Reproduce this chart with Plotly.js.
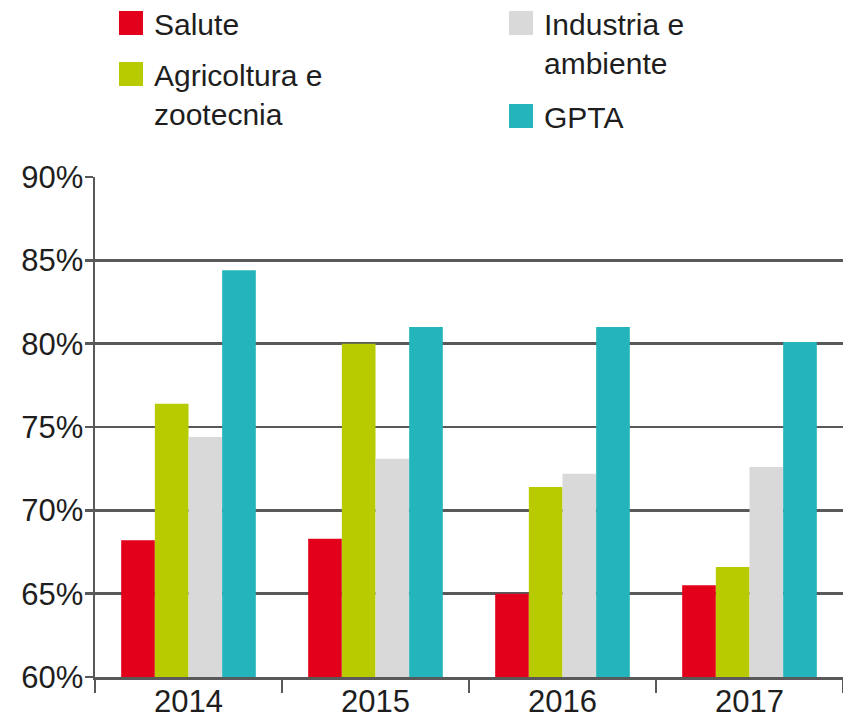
<!DOCTYPE html>
<html>
<head>
<meta charset="utf-8">
<script src="https://cdn.plot.ly/plotly-3.0.1.min.js"></script>
<style>html,body{margin:0;padding:0;background:#fff;}#chart{width:843px;height:720px;}</style>
</head>
<body>
<div id="chart"></div>
<script>
const years = ["2014", "2015", "2016", "2017"];
const seriesNames = ["Salute", "Agricoltura e<br>zootecnia", "Industria e<br>ambiente", "GPTA"];
const salute = [68.2, 68.3, 65.0, 65.5];
const agricoltura = [76.4, 80.0, 71.4, 66.6];
const industria = [74.4, 73.1, 72.2, 72.6];
const gpta = [84.4, 81.0, 81.0, 80.1];
const yTicks = [60, 65, 70, 75, 80, 85, 90];

const colors = ["#e2001a", "#b7cb00", "#d9d9d9", "#23b5bb"];
const values = [salute, agricoltura, industria, gpta];
const legends = ["legend", "legend", "legend2", "legend2"];

const font = "'Liberation Sans Narrow', 'Liberation Sans', Arial, sans-serif";
const axisColor = "#595959";
const textColor = "#1e1e1e";

const traces = values.map((v, i) => ({
  type: "bar",
  name: seriesNames[i],
  x: years,
  y: v,
  marker: {color: colors[i]},
  legend: legends[i],
  legendgroup: "g" + i,
  hoverinfo: "x+y+name"
}));

const legendCommon = {
  orientation: "v",
  valign: "top",
  xref: "container",
  yref: "paper",
  yanchor: "top",
  xanchor: "left",
  bgcolor: "rgba(0,0,0,0)",
  borderwidth: 0,
  font: {family: font, size: 30, color: textColor}
};

// plot area top is 177px from the page top, plot height 500px
const legendTop = 1 + (177 + 3) / 500;

const layout = {
  width: 843,
  height: 720,
  margin: {l: 95, r: 0, t: 177, b: 43, autoexpand: false},
  paper_bgcolor: "#ffffff",
  plot_bgcolor: "#ffffff",
  barmode: "group",
  bargap: 0.28,
  bargroupgap: 0,
  showlegend: true,
  legend: Object.assign({}, legendCommon, {x: 114 / 843, y: legendTop, tracegroupgap: 9}),
  legend2: Object.assign({}, legendCommon, {x: 504 / 843, y: legendTop, tracegroupgap: 12}),
  xaxis: {
    type: "category",
    tickson: "boundaries",
    ticks: "outside",
    ticklen: 13,
    tickwidth: 2.5,
    tickcolor: axisColor,
    ticklabelstandoff: -5,
    showline: true,
    linecolor: axisColor,
    linewidth: 2.5,
    showgrid: false,
    tickfont: {family: font, size: 31, color: textColor},
    automargin: false,
    fixedrange: true
  },
  yaxis: {
    range: [60, 90],
    tickvals: yTicks,
    ticktext: yTicks.map(t => t + "%"),
    ticks: "outside",
    ticklen: 8,
    tickwidth: 2.5,
    tickcolor: axisColor,
    ticklabelstandoff: -5,
    showline: true,
    linecolor: axisColor,
    linewidth: 2.5,
    showgrid: true,
    gridcolor: axisColor,
    gridwidth: 2.5,
    zeroline: false,
    tickfont: {family: font, size: 31, color: textColor},
    automargin: false,
    fixedrange: true
  }
};

function enlargeSwatches(gd) {
  // enlarge the legend colour keys to the reference's square size
  gd.querySelectorAll("g.legendpoints path").forEach(p => {
    p.setAttribute("d", "M9,12H-15V-12H9Z");
  });
}

const gdiv = document.getElementById("chart");
Plotly.newPlot(gdiv, traces, layout, {displayModeBar: false, staticPlot: true}).then(gd => {
  enlargeSwatches(gd);
  gd.on && gd.on("plotly_afterplot", () => enlargeSwatches(gd));
  setTimeout(() => enlargeSwatches(gd), 50);
});
</script>
</body>
</html>
